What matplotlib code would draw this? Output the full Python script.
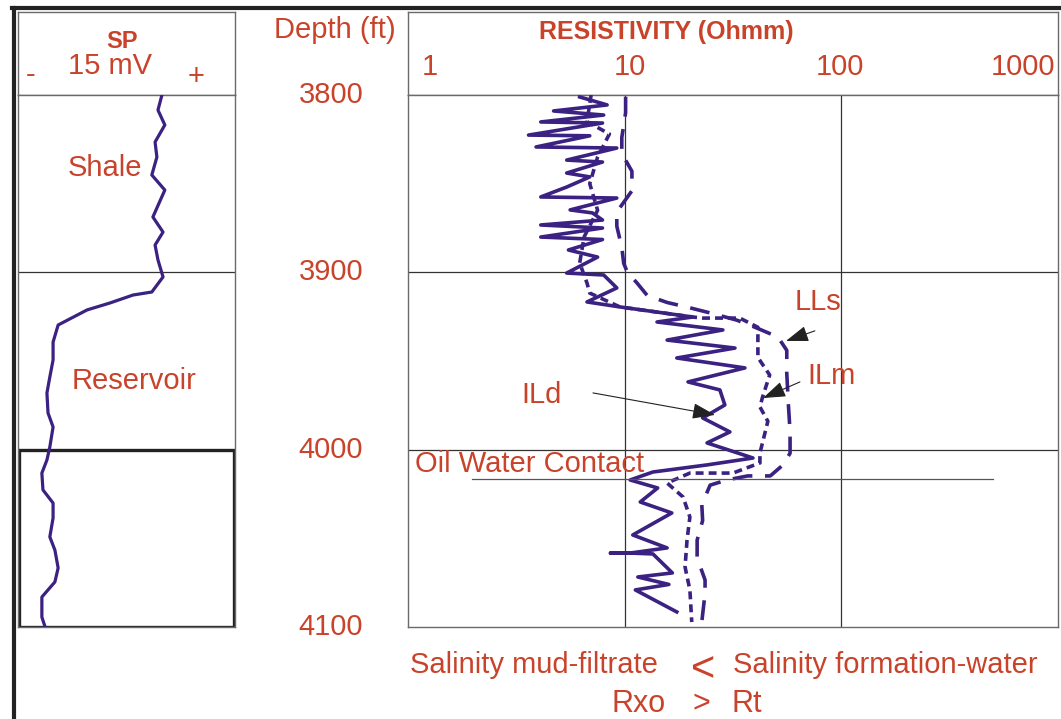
# -*- coding: utf-8 -*-
# SP and resistivity log with oil-water contact
import numpy as np
import matplotlib
matplotlib.use("Agg")
from matplotlib import pyplot as plt
from matplotlib.transforms import blended_transform_factory
from matplotlib.lines import Line2D

plt.rcParams['font.family'] = ['Liberation Sans', 'DejaVu Sans']

depth_ticks = [3800, 3900, 4000, 4100]
res_ticks = [1, 10, 100, 1000]

sp_depth = [3800, 3808.5, 3816.9, 3826.5, 3835, 3845.1, 3853.6, 3868.8, 3877.3,
            3884.6, 3893, 3902.6, 3911.1, 3912.8, 3917.3, 3921.2, 3929.7, 3939.3,
            3949.4, 3959, 3968, 3979.3, 3987.2, 3998.5, 4005.8, 4013.2, 4022.7,
            4030.1, 4038.5, 4049.2, 4056.6, 4066.7, 4074.6, 4083.1, 4094.4, 4100]
sp_mv = [-20.2, -21.3, -19.4, -22.1, -21.6, -23.0, -19.4, -22.7, -19.9,
         -22.1, -21.3, -19.9, -23.0, -28.2, -34.6, -40.9, -48.9, -50.3,
         -50.3, -51.2, -52.0, -51.7, -50.3, -51.2, -52.0, -53.4, -53.1,
         -50.3, -50.3, -51.2, -49.8, -48.9, -49.8, -53.4, -53.4, -52.5]

ild_depth = [3801.1, 3805.6, 3809.0, 3811.3, 3815.2, 3815.8, 3822.6, 3823.0, 3829.3,
             3829.9, 3836.7, 3837.8, 3844.0, 3846.2, 3851.9, 3857.5, 3858.1, 3864.8,
             3866.5, 3870.5, 3873.3, 3875.0, 3880.1, 3881.5, 3887.4, 3891.4, 3900.4,
             3901.5, 3908.8, 3916.7, 3919.5, 3925.2, 3928.0, 3932.5, 3938.2, 3942.7,
             3948.3, 3953.9, 3961.8, 3966.3, 3974.8, 3982.1, 3990.0, 3996.2, 4004.7,
             4008.6, 4012.6, 4017.1, 4021.6, 4029.5, 4035.7, 4048.1, 4055.4, 4058.3,
             4058.3, 4058.3, 4058.8, 4069.5, 4071.8, 4076.0, 4079.1, 4091.5]
ild_res = [6.2, 8.3, 4.7, 8.0, 4.1, 7.9, 3.6, 6.9, 3.9,
           9.2, 5.4, 7.9, 5.4, 6.9, 5.4, 4.1, 9.2, 5.6,
           7.1, 7.9, 4.1, 7.9, 4.1, 7.9, 5.5, 7.5, 5.4,
           8.0, 9.2, 6.7, 9.5, 20.6, 14.1, 28.4, 15.7, 32.3,
           17.4, 35.9, 19.6, 27.5, 29.0, 22.9, 30.6, 24.0, 39.1,
           24.0, 13.5, 10.6, 14.2, 11.8, 16.5, 10.9, 15.7, 10.6,
           8.6, 10.6, 13.5, 16.6, 11.5, 16.0, 11.2, 17.4]

ilm_depth = [3800, 3815, 3822, 3835, 3850, 3865, 3880, 3894.7, 3906, 3911.7,
             3919.5, 3925.2, 3925.8, 3925.8, 3931, 3948, 3957.9, 3970.3, 3975.9,
             3984, 4001.9, 4007.5, 4013.2, 4013.2, 4018.8, 4026.7, 4038, 4051,
             4066.2, 4079.1, 4097.2]
ilm_res = [7.0, 6.7, 8.5, 7.5, 6.9, 7.5, 6.5, 6.2, 6.7, 6.9,
           9.5, 20.6, 22.9, 34.0, 41.2, 41.2, 46.7, 43.3, 42.1,
           45.8, 42.1, 42.1, 31.6, 20.0, 15.7, 18.6, 20.0, 19.4,
           19.0, 20.0, 20.4]

lls_depth = [3801, 3810, 3824, 3833, 3843, 3854, 3866, 3874, 3886, 3895, 3900,
             3906, 3913, 3917, 3920, 3923, 3927, 3931, 3936.5, 3944, 3957, 3975,
             3990, 4002, 4008.6, 4014.8, 4014.8, 4017.1, 4020, 4031, 4040, 4051,
             4061, 4073.5, 4081, 4097]
lls_res = [10.1, 10.1, 9.7, 9.7, 10.8, 10.8, 9.2, 9.2, 9.7, 9.9, 10.3,
           11.4, 12.7, 15.7, 20.0, 25.0, 33.0, 40.0, 51.0, 56.0, 56.0, 57.0,
           58.0, 58.0, 53.8, 47.0, 37.0, 29.6, 24.8, 22.7, 22.9, 21.6,
           21.6, 23.5, 23.5, 22.7]

owc_depth = 4016.5

txt_c = '#c9432b'
crv_c = '#3b2181'
grd_c = '#333333'
brd_c = '#6a6a6a'
fs = 21

W, H = 1061, 719
fig = plt.figure(figsize=(W / 100, H / 100), dpi=100)


def box(x0, y0, x1, y1):
    # pixel box -> figure fraction
    return [x0 / W, 1 - y1 / H, (x1 - x0) / W, (y1 - y0) / H]


ax_sph = fig.add_axes(box(18, 12, 235, 95))
ax_sp = fig.add_axes(box(18, 95, 235, 627))
ax_rh = fig.add_axes(box(408, 12, 1058, 95))
ax_r = fig.add_axes(box(408, 95, 1058, 627))

for a in (ax_sph, ax_sp, ax_rh, ax_r):
    a.set_xticks([])
    a.set_yticks([])
    for s in a.spines.values():
        s.set_color(brd_c)
        s.set_linewidth(1.0)

# SP track
ax_sp.plot(sp_mv, sp_depth, color=crv_c, lw=2.3, zorder=3)
ax_sp.set_xlim(-60, 0)
ax_sp.set_ylim(4100, 3800)
ax_sp.axhline(3900, color=grd_c, lw=0.9)
ax_sp.axhspan(4000, 4100, xmin=0.003, xmax=0.997, fill=False, ec='#222222', lw=2.4, zorder=2)
ax_sp.text(0.40, 3841, "Shale", color=txt_c, fontsize=fs, ha='center', va='center',
           transform=blended_transform_factory(ax_sp.transAxes, ax_sp.transData))
ax_sp.text(0.535, 3961, "Reservoir", color=txt_c, fontsize=fs, ha='center', va='center',
           transform=blended_transform_factory(ax_sp.transAxes, ax_sp.transData))

ax_sph.text(0.479, 0.64, "SP", color=txt_c, fontsize=17, fontweight='bold', ha='center', va='center')
ax_sph.text(0.424, 0.35, "15 mV", color=txt_c, fontsize=fs, ha='center', va='center')
ax_sph.text(0.06, 0.24, "-", color=txt_c, fontsize=fs, ha='center', va='center')
ax_sph.text(0.82, 0.22, "+", color=txt_c, fontsize=fs, ha='center', va='center')

# resistivity track
ax_r.set_xscale('log')
ax_r.set_xlim(1, 1000)
ax_r.set_ylim(4100, 3800)
ax_r.set_xticks([])
ax_r.minorticks_off()
ax_r.set_yticks([])
for v in res_ticks[1:-1]:
    ax_r.axvline(v, color=grd_c, lw=0.9)
for d in depth_ticks[1:-1]:
    ax_r.axhline(d, color=grd_c, lw=0.9)

ax_r.plot(lls_res, lls_depth, color=crv_c, lw=2.6, linestyle=(0, (5.5, 3.5)), zorder=3)
ax_r.plot(ilm_res, ilm_depth, color=crv_c, lw=2.6, linestyle=(0, (2.2, 1.4)), zorder=3)
ax_r.plot(ild_res, ild_depth, color=crv_c, lw=2.6, zorder=4)

ax_r.plot([1.97, 501], [owc_depth, owc_depth], color='#555555', lw=0.9, zorder=5)
ax_r.text(1.08, 4008, "Oil Water Contact", color=txt_c, fontsize=fs, ha='left', va='center', zorder=6)

arw = dict(arrowstyle='-|>,head_length=1.0,head_width=0.35', color='#222222', lw=0.8,
           mutation_scale=14, shrinkA=0, shrinkB=0)
ax_r.text(78, 3916.7, "LLs", color=txt_c, fontsize=fs, ha='center', va='center')
ax_r.annotate('', xy=(55.5, 3938.7), xytext=(75.5, 3933), arrowprops=arw, zorder=6)
ax_r.text(90.5, 3958.5, "ILm", color=txt_c, fontsize=fs, ha='center', va='center')
ax_r.annotate('', xy=(43.5, 3970.9), xytext=(64.4, 3961.8), arrowprops=arw, zorder=6)
ax_r.text(4.15, 3969.2, "ILd", color=txt_c, fontsize=fs, ha='center', va='center')
ax_r.annotate('', xy=(26.1, 3980.4), xytext=(7.14, 3968), arrowprops=arw, zorder=6)

# resistivity header
ax_rh.set_xscale('log')
ax_rh.set_xlim(1, 1000)
ax_rh.set_ylim(0, 1)
ax_rh.set_xticks([])
ax_rh.minorticks_off()
ax_rh.text(0.397, 0.76, "RESISTIVITY (Ohmm)", color=txt_c, fontsize=18, fontweight='bold',
           ha='center', va='center', transform=ax_rh.transAxes)
ha_list = ['left', 'center', 'center', 'right']
off_list = [10, 4, -1, -2]
for v, h, o in zip(res_ticks, ha_list, off_list):
    ax_rh.annotate(str(v), xy=(v, 0.34), xytext=(o, 0), textcoords='offset points',
                   color=txt_c, fontsize=fs, ha=h, va='center')

# depth column
tr = blended_transform_factory(fig.transFigure, ax_r.transData)
for d in depth_ticks:
    fig.text(331 / W, d, str(d), transform=tr, color=txt_c, fontsize=fs, ha='center', va='center')
fig.text(335 / W, 1 - 30 / H, "Depth (ft)", color=txt_c, fontsize=fs, ha='center', va='center')

# bottom note
fig.text(410 / W, 1 - 665 / H, "Salinity mud-filtrate", color=txt_c, fontsize=fs, ha='left', va='center')
fig.text(703 / W, 1 - 670 / H, "<", color=txt_c, fontsize=30, ha='center', va='center')
fig.text(733 / W, 1 - 665 / H, "Salinity formation-water", color=txt_c, fontsize=fs, ha='left', va='center')
fig.text(611 / W, 1 - 704 / H, "Rxo", color=txt_c, fontsize=22, ha='left', va='center')
fig.text(701 / W, 1 - 704 / H, ">", color=txt_c, fontsize=22, ha='center', va='center')
fig.text(731 / W, 1 - 704 / H, "Rt", color=txt_c, fontsize=22, ha='left', va='center')

# outer frame (top and left)
fig.add_artist(Line2D([13.5 / W, 13.5 / W], [0, 1 - 7.5 / H], transform=fig.transFigure,
                      color='#222222', lw=3))
fig.add_artist(Line2D([12 / W, 1], [1 - 7.5 / H, 1 - 7.5 / H], transform=fig.transFigure,
                      color='#222222', lw=3))

plt.savefig("out.png", dpi=100)
